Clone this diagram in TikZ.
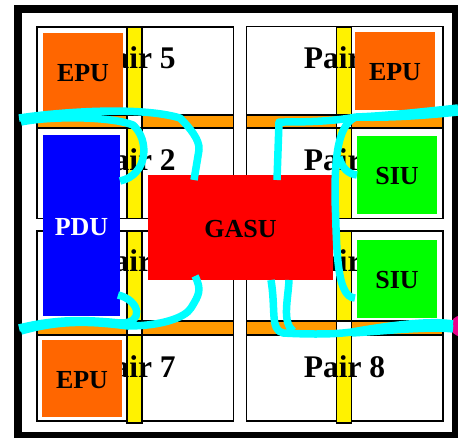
\documentclass[tikz,border=0pt]{standalone}
\usepackage{fontspec}
\setmainfont{Liberation Serif}
\usepackage{xcolor}
\definecolor{epuorange}{RGB}{255,102,0}
\definecolor{linkorange}{RGB}{255,153,0}
\definecolor{buscyan}{RGB}{0,255,255}
\usetikzlibrary{arrows.meta, positioning}

\begin{document}
\begin{tikzpicture}[
  x=1pt, y=-1pt,
  every node/.style={inner sep=0pt, outer sep=0pt},
  pairbox/.style={draw=black, line width=1.5pt, fill=white, minimum width=196.5pt},
  vbar/.style={draw=black, line width=1.5pt, fill=yellow, minimum width=15pt},
  hbar/.style={draw=black, line width=1.5pt, fill=linkorange, minimum width=196.5pt, minimum height=13pt},
  gapbox/.style={draw=black, line width=1.5pt, fill=white, minimum width=15pt, minimum height=13pt},
  pairlabel/.style={anchor=base, font=\bfseries\fontsize{31.5}{31.5}\selectfont},
  unit/.style={font=\bfseries\fontsize{26}{26}\selectfont, align=center, text height=19pt, text depth=0pt},
  bus/.style={draw=buscyan, line width=7.5pt, line cap=butt, line join=round},
]
\useasboundingbox (0,0) rectangle (458,437);
\clip (0,0) rectangle (458,437);
\node[draw=black, line width=8pt, minimum width=438pt, minimum height=427pt] (frame) at (237,222.5) {};

% pair boxes
\node[pairbox, minimum height=89pt] (box5) at (135,71.5) {};
\node[pairbox, minimum height=90pt] (box6) at (344.5,71.5) {};
\node[pairbox, minimum height=90pt] (box2) at (135,173.5) {};
\node[pairbox, minimum height=90pt] (box1) at (344.5,173.5) {};
\node[pairbox, minimum height=90pt] (box3) at (135,276) {};
\node[pairbox, minimum height=90pt] (box4) at (344.5,276) {};
\node[pairbox, minimum height=86pt] (box7) at (135,378) {};
\node[pairbox, minimum height=86pt] (box8) at (344.5,378) {};

% vertical links
\node[vbar, minimum height=89pt] (bar5) at (134.5,71.5) {};
\node[vbar, minimum height=90pt] (bar2) at (134.5,173.5) {};
\node[vbar, minimum height=90pt] (bar3) at (134.5,276) {};
\node[vbar, minimum height=88pt] (bar7) at (134.5,379) {};
\node[vbar, minimum height=89pt] (bar6) at (344,71.5) {};
\node[vbar, minimum height=90pt] (bar1) at (344,173.5) {};
\node[vbar, minimum height=90pt] (bar4) at (344,276) {};
\node[vbar, minimum height=88pt] (bar8) at (344,379) {};

% horizontal links
\node[hbar] (linkA) at (135,121.5) {};
\node[hbar] (linkB) at (344.5,121.5) {};
\node[hbar, minimum height=14pt] (linkC) at (135,328) {};
\node[hbar, minimum height=14pt] (linkD) at (344.5,328) {};
\node[gapbox] (gapA) at (134.5,121.5) {};
\node[gapbox] (gapB) at (344,121.5) {};
\node[gapbox, minimum height=14pt] (gapC) at (134.5,328) {};
\node[gapbox, minimum height=14pt] (gapD) at (344,328) {};

% labels
\node[pairlabel] (label5) at (135,68) {Pair 5};
\node[pairlabel] (label6) at (344.5,68) {Pair 6};
\node[pairlabel] (label2) at (135,170) {Pair 2};
\node[pairlabel] (label1) at (344.5,170) {Pair 1};
\node[pairlabel] (label3) at (135,271) {Pair 3};
\node[pairlabel] (label4) at (344.5,271) {Pair 4};
\node[pairlabel] (label7) at (135,377) {Pair 7};
\node[pairlabel] (label8) at (344.5,377) {Pair 8};

% units
\node[unit, fill=epuorange, minimum width=80pt, minimum height=78pt] (epuA) at (83,72) {EPU};
\node[unit, fill=epuorange, minimum width=80pt, minimum height=78pt] (epuB) at (395,71) {EPU};
\node[unit, fill=epuorange, minimum width=80pt, minimum height=77pt] (epuC) at (82,378.5) {EPU};
\node[unit, fill=blue, text=white, minimum width=77pt, minimum height=181pt] (pdu) at (81.5,225.5) {PDU};
\node[unit, fill=red, minimum width=185pt, minimum height=105pt] (gasu) at (240.5,227.5) {GASU};
\node[unit, fill=green, minimum width=80pt, minimum height=78pt] (siuA) at (397,175) {SIU};
\node[unit, fill=green, minimum width=80pt, minimum height=78pt] (siuB) at (397,279) {SIU};
\node[circle, fill=magenta, minimum size=21pt] (port) at (461,326) {};

% bus ends
\coordinate (nwEdge) at (19,118);
\coordinate (nwEdgeB) at (21,122);
\coordinate (nwPdu) at (120,181);
\coordinate (nwGasu) at (194,180);
\coordinate (neEdge) at (458,108);
\coordinate (neEdgeB) at (458,112);
\coordinate (neGasu) at (277,180);
\coordinate (neJoin) at (356,117);
\coordinate (neSiu) at (357,175);
\coordinate (seSiu) at (355,298);
\coordinate (swEdge) at (19,328);
\coordinate (swEdgeB) at (21,331);
\coordinate (swPdu) at (118,295);
\coordinate (swGasu) at (195,276);
\coordinate (sePort) at (453,324);
\coordinate (sePortB) at (453,329);
\coordinate (seGasuA) at (271,280);
\coordinate (seGasuB) at (289,280);

% buses
\draw[bus] (nwEdge) .. controls (60,112) and (140,106) .. (180,118)
  .. controls (190,128) and (200,140) .. (199,150) -- (nwGasu);
\draw[bus] (nwEdgeB) .. controls (50,116) and (110,116) .. (133,125)
  .. controls (150,140) and (148,175) .. (nwPdu);
\draw[bus] (neEdge) .. controls (420,112) and (385,116) .. (neJoin)
  .. controls (330,122) and (300,122) .. (279,122) -- (neGasu);
\draw[bus] (neEdgeB) .. controls (420,116) and (385,118) .. (neJoin);
\draw[bus] (neJoin) .. controls (335,125) and (335,170) .. (335,200)
  .. controls (337,240) and (335,298) .. (seSiu);
\draw[bus] (339,157) .. controls (342,168) and (348,174) .. (neSiu);
\draw[bus] (swEdge) .. controls (60,318) and (90,320) .. (120,323)
  .. controls (145,324) and (140,300) .. (swPdu);
\draw[bus] (swEdgeB) .. controls (60,320) and (90,321) .. (128,326)
  .. controls (160,326) and (185,318) .. (191,308)
  .. controls (199,295) and (202,290) .. (swGasu);
\draw[bus] (sePort) .. controls (430,320) and (385,326) .. (352,332)
  .. controls (330,335) and (300,334) .. (283,333)
  .. controls (270,330) and (276,310) .. (seGasuA);
\draw[bus] (sePortB) .. controls (430,326) and (385,331) .. (352,333);
\draw[bus] (seGasuB) .. controls (288,300) and (282,322) .. (293,331);
\end{tikzpicture}
\end{document}
